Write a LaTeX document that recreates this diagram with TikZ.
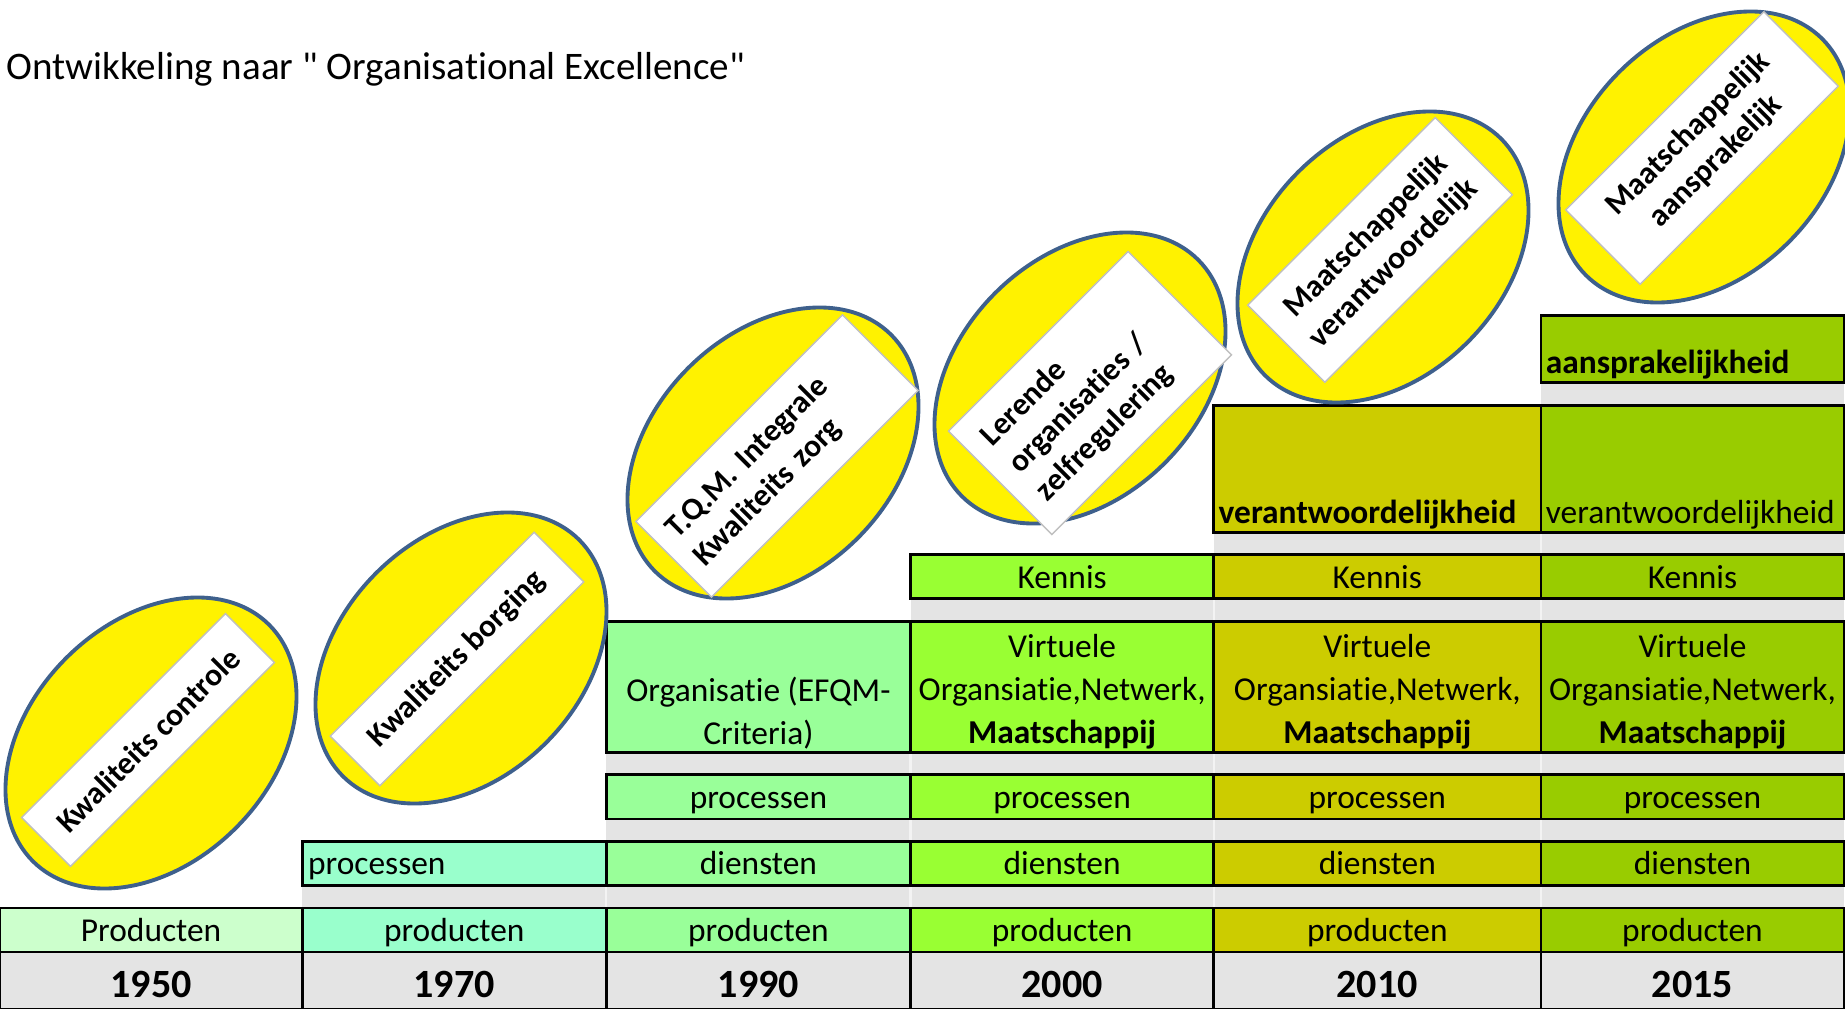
\documentclass[tikz,border=0pt]{standalone}
\usepackage{fontspec}
\setmainfont{Carlito}[Ligatures={TeX,CommonOff}]
\usepackage{tikz}
\usetikzlibrary{positioning}
\usetikzlibrary{shapes.geometric}

\definecolor{c1950}{RGB}{204,255,204}
\definecolor{c1970}{RGB}{153,255,204}
\definecolor{c1990}{RGB}{153,255,153}
\definecolor{c2000}{RGB}{153,255,51}
\definecolor{c2010}{RGB}{204,204,0}
\definecolor{c2015}{RGB}{153,204,0}
\definecolor{SheetGray}{RGB}{228,228,228}
\definecolor{GridLight}{RGB}{243,243,243}
\definecolor{OvalBlue}{RGB}{62,96,140}
\definecolor{TagGray}{RGB}{191,191,191}

\newcommand{\celltextfont}{\fontsize{9.5}{12.2}\selectfont}
\newcommand{\headingfont}{\fontsize{11.1}{13.5}\selectfont}
\newcommand{\yearnumfont}{\fontsize{11.4}{13.5}\selectfont\bfseries}
\newcommand{\ovaltextfont}{\fontsize{9}{11.1}\selectfont\bfseries}
% straight double quote, kept out of the TeX ligature mapping
\newcommand{\straightquote}{\XeTeXglyph\XeTeXcharglyph"22\relax}

\pgfdeclarelayer{background}
\pgfsetlayers{background,main}

\begin{document}
\begin{tikzpicture}[x=0.01cm, y=-0.01cm,
 cell/.style = {draw, line width=0.8pt, rectangle, inner sep=0pt, outer sep=0pt,
                minimum height=0.44cm, font=\celltextfont, text height=9pt, text depth=2.6pt},
 tallcell/.style = {draw, line width=0.8pt, rectangle, inner sep=0pt, outer sep=0pt},
 celltext/.style = {inner sep=0pt, outer sep=0pt, font=\celltextfont, align=center},
 yearcell/.style = {draw, line width=0.8pt, rectangle, inner sep=0pt, outer sep=0pt,
                    minimum height=0.57cm, fill=SheetGray, font=\yearnumfont,
                    text height=9.7pt, text depth=0pt},
 oval/.style = {draw=OvalBlue, line width=1.1pt, fill=yellow, ellipse, rotate=45,
                minimum width=3.34cm, minimum height=2.40cm, inner sep=0pt},
 tag/.style = {draw=TagGray, line width=0.4pt, fill=white, rectangle, rotate=45,
               inner sep=0pt, align=center, font=\ovaltextfont},
 ]

    \useasboundingbox (0,0) rectangle (1845,1009);

    \node [anchor=base west, inner sep=0pt, font=\headingfont] (title) at (6,80)
          {Ontwikkeling naar \straightquote{} Organisational Excellence\straightquote};

    % 1950
    \node [yearcell, minimum width=3.02cm, anchor=north west] (y1950) at (0,952) {1950};
    \node [cell, fill=c1950, minimum width=3.02cm, above=0pt of y1950] (prod1950) {Producten};

    % 1970
    \node [yearcell, minimum width=3.04cm, right=0pt of y1950] (y1970) {1970};
    \node [cell, fill=c1970, minimum width=3.04cm, above=0pt of y1970] (prod1970) {producten};
    \node [cell, fill=c1970, minimum width=3.04cm, above=0.225cm of prod1970,
           text width=2.92cm, align=left] (proc1970) {processen};

    % 1990
    \node [yearcell, minimum width=3.04cm, right=0pt of y1970] (y1990) {1990};
    \node [cell, fill=c1990, minimum width=3.04cm, above=0pt of y1990] (prod1990) {producten};
    \node [cell, fill=c1990, minimum width=3.04cm, above=0.225cm of prod1990] (dien1990) {diensten};
    \node [cell, fill=c1990, minimum width=3.04cm, above=0.225cm of dien1990] (proc1990) {processen};
    \node [tallcell, fill=c1990, minimum width=3.04cm, minimum height=1.31cm,
           above=0.225cm of proc1990] (org1990) {};
    \node [celltext, anchor=south, yshift=0.03cm] (org1990txt) at (org1990.south)
          {Organisatie (EFQM-\\Criteria)};

    % 2000
    \node [yearcell, minimum width=3.03cm, right=0pt of y1990] (y2000) {2000};
    \node [cell, fill=c2000, minimum width=3.03cm, above=0pt of y2000] (prod2000) {producten};
    \node [cell, fill=c2000, minimum width=3.03cm, above=0.225cm of prod2000] (dien2000) {diensten};
    \node [cell, fill=c2000, minimum width=3.03cm, above=0.225cm of dien2000] (proc2000) {processen};
    \node [tallcell, fill=c2000, minimum width=3.03cm, minimum height=1.31cm,
           above=0.225cm of proc2000] (virt2000) {};
    \node [celltext, anchor=south, yshift=0.03cm] (virt2000txt) at (virt2000.south)
          {Virtuele\\Organsiatie,Netwerk,\\\textbf{Maatschappij}};
    \node [cell, fill=c2000, minimum width=3.03cm, above=0.225cm of virt2000] (ken2000) {Kennis};

    % 2010
    \node [yearcell, minimum width=3.27cm, right=0pt of y2000] (y2010) {2010};
    \node [cell, fill=c2010, minimum width=3.27cm, above=0pt of y2010] (prod2010) {producten};
    \node [cell, fill=c2010, minimum width=3.27cm, above=0.225cm of prod2010] (dien2010) {diensten};
    \node [cell, fill=c2010, minimum width=3.27cm, above=0.225cm of dien2010] (proc2010) {processen};
    \node [tallcell, fill=c2010, minimum width=3.27cm, minimum height=1.31cm,
           above=0.225cm of proc2010] (virt2010) {};
    \node [celltext, anchor=south, yshift=0.03cm] (virt2010txt) at (virt2010.south)
          {Virtuele\\Organsiatie,Netwerk,\\\textbf{Maatschappij}};
    \node [cell, fill=c2010, minimum width=3.27cm, above=0.225cm of virt2010] (ken2010) {Kennis};
    \node [tallcell, fill=c2010, minimum width=3.27cm, minimum height=1.27cm,
           above=0.225cm of ken2010] (ver2010) {};
    \node [celltext, anchor=base west] (ver2010txt) at ([xshift=0.05cm, yshift=0.09cm]ver2010.south west)
          {\textbf{verantwoordelijkheid}};

    % 2015
    \node [yearcell, minimum width=3.03cm, right=0pt of y2010] (y2015) {2015};
    \node [cell, fill=c2015, minimum width=3.03cm, above=0pt of y2015] (prod2015) {producten};
    \node [cell, fill=c2015, minimum width=3.03cm, above=0.225cm of prod2015] (dien2015) {diensten};
    \node [cell, fill=c2015, minimum width=3.03cm, above=0.225cm of dien2015] (proc2015) {processen};
    \node [tallcell, fill=c2015, minimum width=3.03cm, minimum height=1.31cm,
           above=0.225cm of proc2015] (virt2015) {};
    \node [celltext, anchor=south, yshift=0.03cm] (virt2015txt) at (virt2015.south)
          {Virtuele\\Organsiatie,Netwerk,\\\textbf{Maatschappij}};
    \node [cell, fill=c2015, minimum width=3.03cm, above=0.225cm of virt2015] (ken2015) {Kennis};
    \node [tallcell, fill=c2015, minimum width=3.03cm, minimum height=1.27cm,
           above=0.225cm of ken2015] (ver2015) {};
    \node [celltext, anchor=base west] (ver2015txt) at ([xshift=0.05cm, yshift=0.09cm]ver2015.south west)
          {verantwoordelijkheid};
    \node [tallcell, fill=c2015, minimum width=3.03cm, minimum height=0.67cm,
           above=0.225cm of ver2015] (aan2015) {};
    \node [celltext, anchor=base west] (aan2015txt) at ([xshift=0.05cm, yshift=0.09cm]aan2015.south west)
          {\textbf{aansprakelijkheid}};

    % sheet background behind the cells
    \begin{pgfonlayer}{background}
      \fill [SheetGray] (proc1970.north west) rectangle (prod1970.south east);
      \fill [SheetGray] (org1990.north west) rectangle (prod1990.south east);
      \fill [SheetGray] (ken2000.north west) rectangle (prod2000.south east);
      \fill [SheetGray] (ver2010.north west) rectangle (prod2010.south east);
      \fill [SheetGray] (aan2015.north west) rectangle (prod2015.south east);
      \draw [GridLight, line width=0.6pt] (proc1970.north east) -- (prod1970.south east);
      \draw [GridLight, line width=0.6pt] (org1990.north east) -- (prod1990.south east);
      \draw [GridLight, line width=0.6pt] (ken2000.north east) -- (prod2000.south east);
      \draw [GridLight, line width=0.6pt] (ver2010.north east) -- (prod2010.south east);
    \end{pgfonlayer}

    % ovals with their tilted labels
    \node [oval] (ov1950) at (151,743) {};
    \node [tag, minimum width=2.88cm, minimum height=0.69cm] (tag1950) at (148,740) {Kwaliteits controle};
    \node [oval] (ov1970) at (461,658) {};
    \node [tag, minimum width=2.88cm, minimum height=0.70cm] (tag1970) at (457,659) {Kwaliteits borging};
    \node [oval] (ov1990) at (773,453) {};
    \node [tag, minimum width=2.92cm, minimum height=1.07cm, text width=2.58cm, align=left] (tag1990)
          at (777,456) {T.Q.M. Integrale\\Kwaliteits zorg};
    \node [oval] (ov2000) at (1080,378) {};
    \node [tag, minimum width=2.54cm, minimum height=1.46cm, text width=2.14cm, align=left] (tag2000)
          at (1090,393) {Lerende\\organisaties /\\zelfregulering};
    \node [oval] (ov2010) at (1383,257) {};
    \node [tag, minimum width=2.65cm, minimum height=1.09cm] (tag2010) at (1380,250)
          {Maatschappelijk\\verantwoordelijk};
    \node [oval] (ov2015) at (1704,157) {};
    \node [tag, minimum width=2.80cm, minimum height=1.05cm] (tag2015) at (1702,148)
          {Maatschappelijk\\aansprakelijk};

\end{tikzpicture}
\end{document}
